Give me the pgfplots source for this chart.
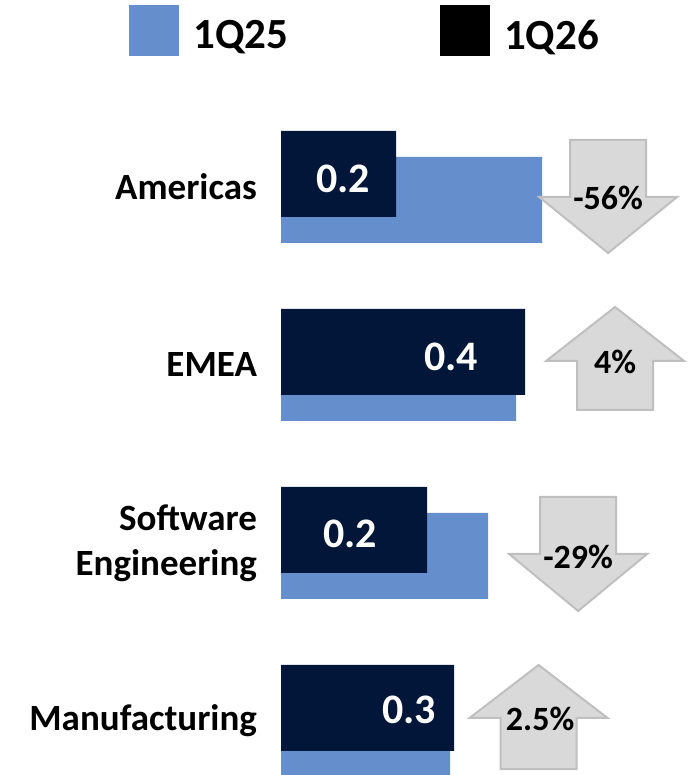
\documentclass[border=0pt]{standalone}
\usepackage{pgfplots}
\pgfplotsset{compat=1.18}
\usepackage{fontspec}
\setmainfont{Carlito}
\definecolor{q25}{HTML}{658ECC}
\definecolor{q26}{HTML}{011638}
\definecolor{arrfill}{HTML}{D9D9D9}
\definecolor{arrline}{HTML}{BFBFBF}

% block arrows, offsets in pt from the category centre
\newcommand{\arrdown}[5]{%
  \draw[fill=arrfill, draw=arrline, line width=2pt]
    ([shift={(-38pt,#3)}]axis cs:#1,#2) -- ([shift={(38pt,#3)}]axis cs:#1,#2)
    -- ([shift={(38pt,#4)}]axis cs:#1,#2) -- ([shift={(69pt,#4)}]axis cs:#1,#2)
    -- ([shift={(0pt,#5)}]axis cs:#1,#2) -- ([shift={(-69pt,#4)}]axis cs:#1,#2)
    -- ([shift={(-38pt,#4)}]axis cs:#1,#2) -- cycle;}
\newcommand{\arrup}[5]{%
  \draw[fill=arrfill, draw=arrline, line width=2pt]
    ([shift={(-38pt,#5)}]axis cs:#1,#2) -- ([shift={(38pt,#5)}]axis cs:#1,#2)
    -- ([shift={(38pt,#4)}]axis cs:#1,#2) -- ([shift={(69pt,#4)}]axis cs:#1,#2)
    -- ([shift={(0pt,#3)}]axis cs:#1,#2) -- ([shift={(-69pt,#4)}]axis cs:#1,#2)
    -- ([shift={(-38pt,#4)}]axis cs:#1,#2) -- cycle;}

\begin{document}
\begin{tikzpicture}
\begin{axis}[
    scale only axis, width=690pt, height=775pt,
    xmin=-0.46066, xmax=0.67049,
    ymin=-0.30337, ymax=4.05056,
    xbar, bar width=86pt,
    axis line style={draw=none},
    major tick length=0pt,
    xtick=\empty,
    ytick={0,1,2,3},
    yticklabels={Manufacturing,{Software\\Engineering},EMEA,Americas},
    y tick label style={font=\fontsize{37}{45}\selectfont\bfseries, align=right,
        anchor=east, inner sep=0pt, xshift=257pt},
    legend columns=2,
    legend style={at={(rel axis cs:0.18696,0.99355)}, anchor=north west,
        draw=none, fill=none, inner sep=0pt,
        font=\fontsize{43}{50}\selectfont\bfseries,
        /tikz/every odd column/.append style={column sep=12pt},
        /tikz/every even column/.append style={column sep=150pt}},
    legend image code/.code={\fill[#1] (0pt,-21pt) rectangle (50pt,30pt);},
]

% 1Q25
\addplot[fill=q25, draw=none, bar shift=-13pt]
coordinates {(0.4279,3) (0.3852,2) (0.3393,1) (0.2770,0)};
% 1Q26
\addplot[fill=q26, draw=none, bar shift=13pt, legend image post style={fill=black}]
coordinates {(0.1885,3) (0.4000,2) (0.2393,1) (0.2836,0)};
\legend{1Q25, 1Q26}

\node[font=\fontsize{42}{42}\selectfont\bfseries, text=white] at ([yshift=8pt]axis cs:0.1016,3) {0.2};
\node[font=\fontsize{42}{42}\selectfont\bfseries, text=white] at ([yshift=8pt]axis cs:0.2787,2) {0.4};
\node[font=\fontsize{42}{42}\selectfont\bfseries, text=white] at ([yshift=9pt]axis cs:0.1131,1) {0.2};
\node[font=\fontsize{42}{42}\selectfont\bfseries, text=white] at ([yshift=11pt]axis cs:0.2098,0) {0.3};

\arrdown{0.5361}{3}{47pt}{-10pt}{-66pt}
\arrup{0.5475}{2}{58pt}{4pt}{-45pt}
\arrdown{0.4869}{1}{46pt}{-11pt}{-68pt}
\arrup{0.4221}{0}{56pt}{3pt}{-48pt}

\node[font=\fontsize{34}{34}\selectfont\bfseries] at ([yshift=-11pt]axis cs:0.5361,3) {-56\%};
\node[font=\fontsize{34}{34}\selectfont\bfseries] at ([yshift=3pt]axis cs:0.5475,2) {4\%};
\node[font=\fontsize{34}{34}\selectfont\bfseries] at ([yshift=-14pt]axis cs:0.4869,1) {-29\%};
\node[font=\fontsize{34}{34}\selectfont\bfseries] at ([yshift=2pt]axis cs:0.4246,0) {2.5\%};
\end{axis}
\end{tikzpicture}
\end{document}
